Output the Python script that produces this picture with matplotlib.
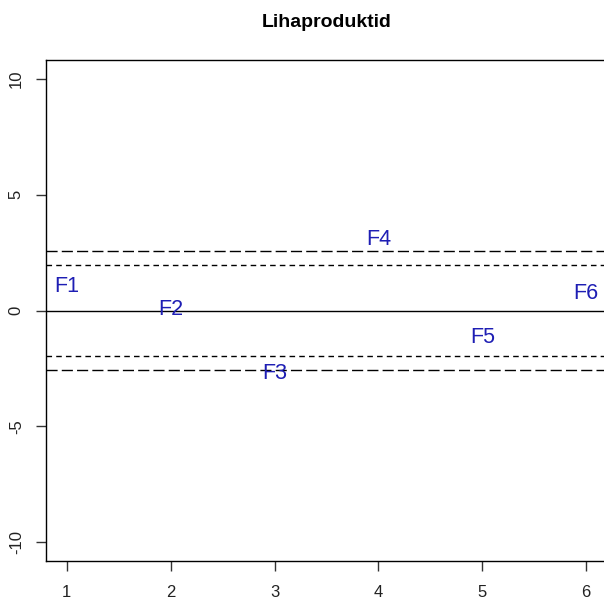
import numpy as np
import matplotlib.pyplot as plt

plt.rcParams['font.family'] = ['Liberation Sans', 'DejaVu Sans']
plt.rcParams['axes.unicode_minus'] = False

# factor labels and their positions
labels = ['F1', 'F2', 'F3', 'F4', 'F5', 'F6']
x_pos = [1, 2, 3, 4, 5, 6]
y_pos = [1.05, 0.04, -2.70, 3.06, -1.16, 0.75]

# reference levels: zero line and two-sided critical values
crit_99 = 2.576
crit_95 = 1.96

fig = plt.figure(figsize=(6.04, 6.01), dpi=100)
ax = fig.add_axes([46 / 604, 40 / 601, 561 / 604, 501 / 601])

ax.set_xlim(0.8, 6.2)
ax.set_ylim(-10.8, 10.8)

for lab, x, y in zip(labels, x_pos, y_pos):
    ax.text(x, y, lab, color='#1e1eb4', fontsize=15.5, ha='center', va='center')

ax.axhline(0, color='black', lw=1)
for v in (crit_99, -crit_99):
    ax.axhline(v, color='black', lw=1, linestyle=(0, (8, 3)))
for v in (crit_95, -crit_95):
    ax.axhline(v, color='black', lw=1, linestyle=(0, (4, 3)))

ax.set_xticks([1, 2, 3, 4, 5, 6])
ax.set_yticks([-10, -5, 0, 5, 10])
ax.tick_params(direction='out', length=7, width=1, labelsize=12, color='#333333',
               labelcolor='#222222')
ax.tick_params(axis='x', pad=10)
ax.tick_params(axis='y', pad=9)
plt.setp(ax.get_yticklabels(), rotation=90, va='center')
for s in ax.spines.values():
    s.set_linewidth(1)

ax.set_title('Lihaproduktid', fontsize=14, fontweight='bold', pad=24)

fig.savefig('out.png', dpi=100)
